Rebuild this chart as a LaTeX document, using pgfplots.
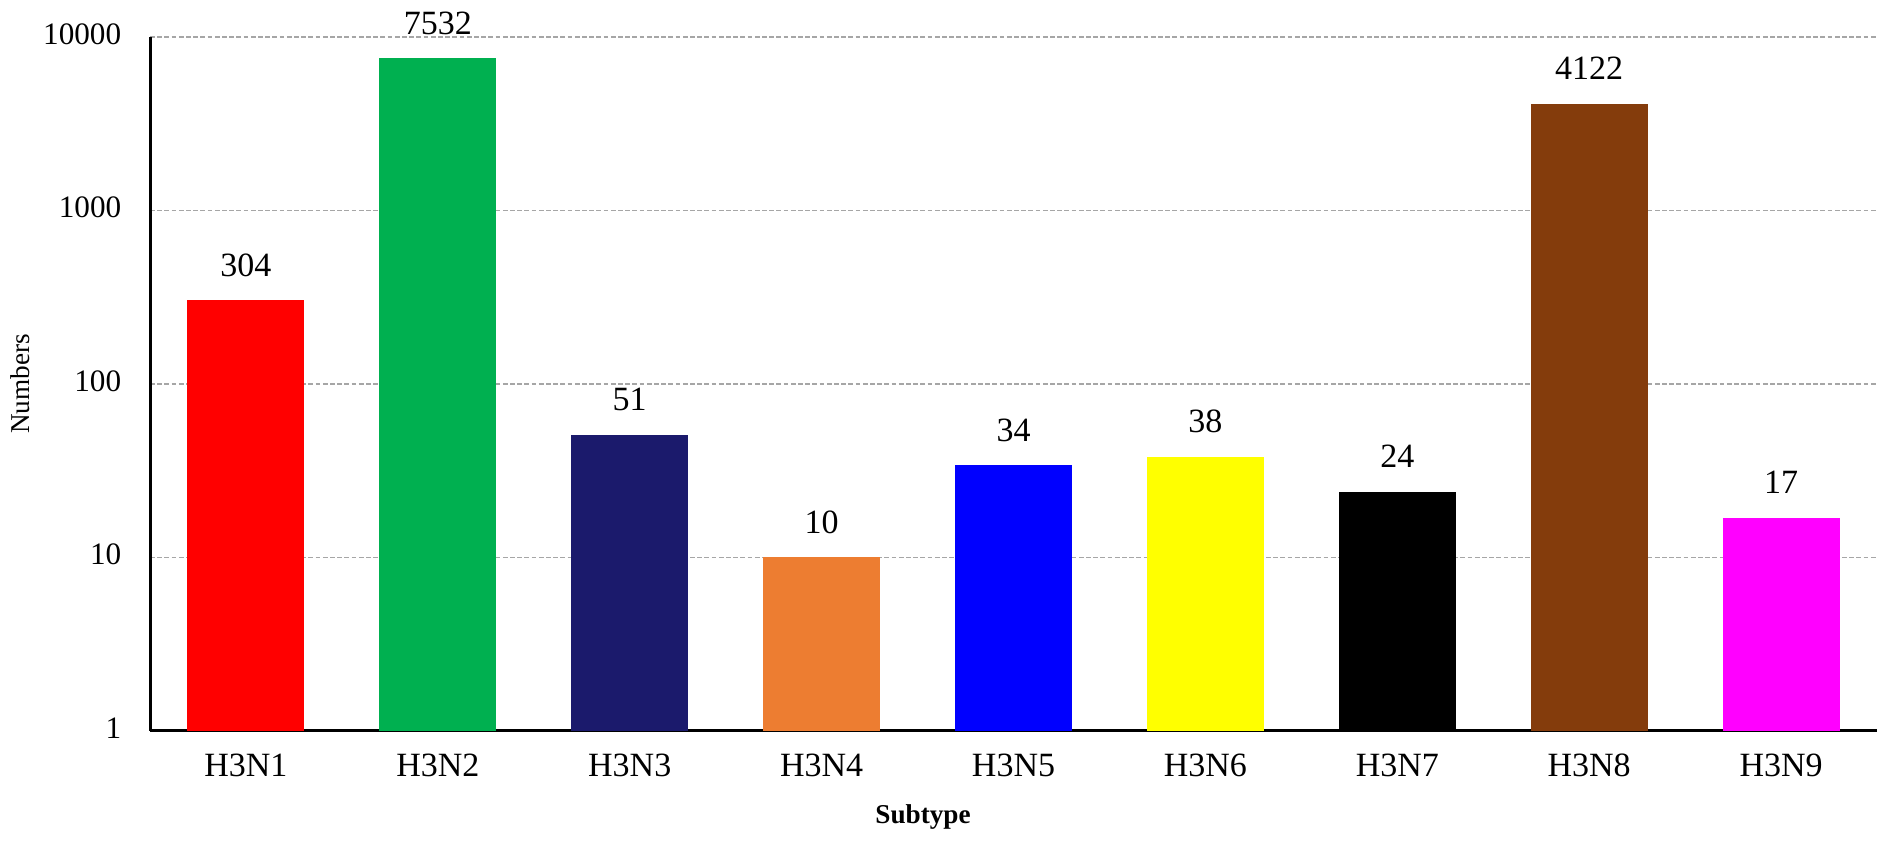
\documentclass[border=0pt]{standalone}
\usepackage{pgfplots}
\pgfplotsset{compat=1.18}
\usepackage{fontspec}
\setmainfont{Liberation Serif}
\definecolor{cH1}{HTML}{FF0000}
\definecolor{cH2}{HTML}{00B050}
\definecolor{cH3}{HTML}{1B1A6C}
\definecolor{cH4}{HTML}{ED7D31}
\definecolor{cH5}{HTML}{0000FF}
\definecolor{cH6}{HTML}{FFFF00}
\definecolor{cH7}{HTML}{000000}
\definecolor{cH8}{HTML}{843C0C}
\definecolor{cH9}{HTML}{FF00FF}
\begin{document}
\begin{tikzpicture}
\begin{axis}[
  scale only axis,
  width=431.75pt, height=173.5pt,
  ymode=log, ymin=1, ymax=10000,
  xmin=-0.5, xmax=8.5,
  axis lines*=left,
  axis line style={line width=0.75pt, black},
  ybar, bar width=0.61, bar shift=0pt,
  xtick={0,...,8},
  xticklabels={H3N1,H3N2,H3N3,H3N4,H3N5,H3N6,H3N7,H3N8,H3N9},
  ytick={1,10,100,1000,10000},
  yticklabels={1,10,100,1000,10000},
  major tick length=0pt,
  minor tick length=0pt,
  ymajorgrids,
  grid style={gray!70, line width=0.4pt, dash pattern=on 1.2pt off 0.6pt},
  xticklabel style={font=\fontsize{8.5pt}{10pt}\selectfont, inner sep=0pt, anchor=north, yshift=-5.5pt},
  yticklabel style={font=\fontsize{7.8pt}{10pt}\selectfont, inner sep=0pt, anchor=east, xshift=-7pt, yshift=0.8pt},
  xlabel={\textbf{Subtype}},
  ylabel={Numbers},
  xlabel style={font=\fontsize{6.8pt}{8pt}\selectfont, at={(axis description cs:0.4476,0)}, anchor=center, yshift=-21.5pt},
  ylabel style={font=\fontsize{6.8pt}{8pt}\selectfont, at={(axis description cs:-0.0753,0.5)}, anchor=center, rotate=0},
  nodes near coords,
  point meta=explicit symbolic,
  every node near coord/.append style={font=\fontsize{8.5pt}{10pt}\selectfont, inner sep=0pt, anchor=south, yshift=5.75pt, black},
]
\addplot[fill=cH1, draw=none] coordinates {(0,304) [304]};
\addplot[fill=cH2, draw=none] coordinates {(1,7532) [7532]};
\addplot[fill=cH3, draw=none] coordinates {(2,51) [51]};
\addplot[fill=cH4, draw=none] coordinates {(3,10) [10]};
\addplot[fill=cH5, draw=none] coordinates {(4,34) [34]};
\addplot[fill=cH6, draw=none] coordinates {(5,38) [38]};
\addplot[fill=cH7, draw=none] coordinates {(6,24) [24]};
\addplot[fill=cH8, draw=none] coordinates {(7,4122) [4122]};
\addplot[fill=cH9, draw=none] coordinates {(8,17) [17]};
\end{axis}
\pgfresetboundingbox
\path (-37.5pt,-28pt) rectangle (435pt,182.75pt);
\end{tikzpicture}
\end{document}
